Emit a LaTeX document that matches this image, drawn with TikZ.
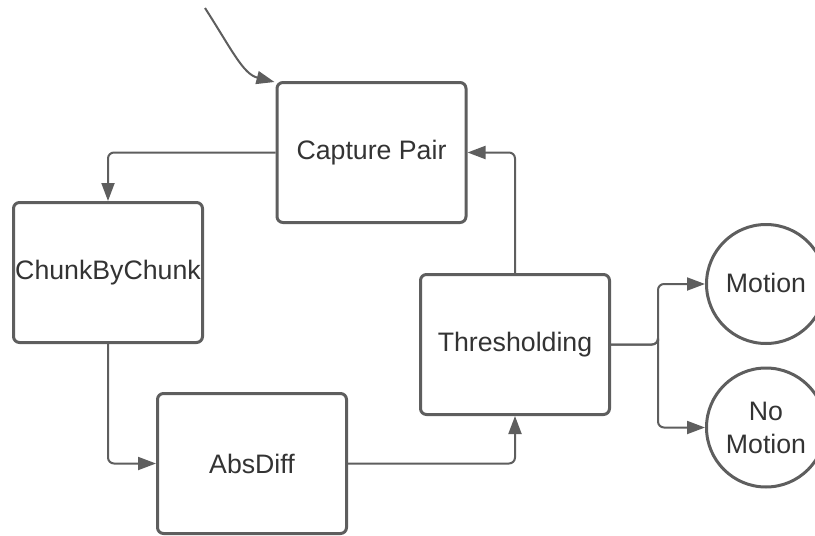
\documentclass[tikz,border=0pt]{standalone}
\usepackage{fontspec}
\setmainfont{Liberation Sans}
\usetikzlibrary{arrows.meta}
\definecolor{edge}{HTML}{5E5E5E}
\definecolor{ink}{HTML}{333333}
\begin{document}
\begin{tikzpicture}[x=1pt,y=-1pt,
  stage/.style={draw=edge, line width=3pt, rounded corners=6pt,
    minimum width=189pt, minimum height=140pt, inner sep=0pt,
    font=\fontsize{26.7}{33}\selectfont, text=ink, align=center},
  outcome/.style={draw=edge, line width=3pt, circle, minimum size=119pt,
    inner sep=0pt, font=\fontsize{26.7}{33}\selectfont, text=ink, align=center},
  flow/.style={draw=edge, line width=2pt, rounded corners=6pt,
    -{Triangle[length=18pt,width=13pt]}}]
\useasboundingbox (0,0) rectangle (815,536);

\node[stage] (cap) at (371.5,152.5) {Capture Pair};
\node[stage] (chunk) at (108,272.5) {ChunkByChunk};
\node[stage] (diff) at (252,463.5) {AbsDiff};
\node[stage] (thr) at (515,344.5) {Thresholding};
\node[outcome] (mot) at (766,284) {\raisebox{3pt}{Motion}};
\node[outcome] (nomot) at (766,427.5) {No\\Motion};

% incoming frames
\coordinate (src) at (205,8);
\draw[flow, rounded corners=0pt] (src) .. controls (232,50) and (243,74) .. ([shift={(-1,1)}]cap.north west);

% processing loop
\draw[flow] (cap.west) -| (chunk.north);
\draw[flow] (chunk.south) |- (diff.west);
\draw[flow] (diff.east) -| (thr.south);
\draw[flow] (thr.north) |- (cap.east);

% decision fork
\coordinate (fork) at (658,344.5);
\draw[flow] (thr.east) -| (fork) |- (mot.west);
\draw[flow] (thr.east) -| (fork) |- (nomot.west);
\end{tikzpicture}
\end{document}
